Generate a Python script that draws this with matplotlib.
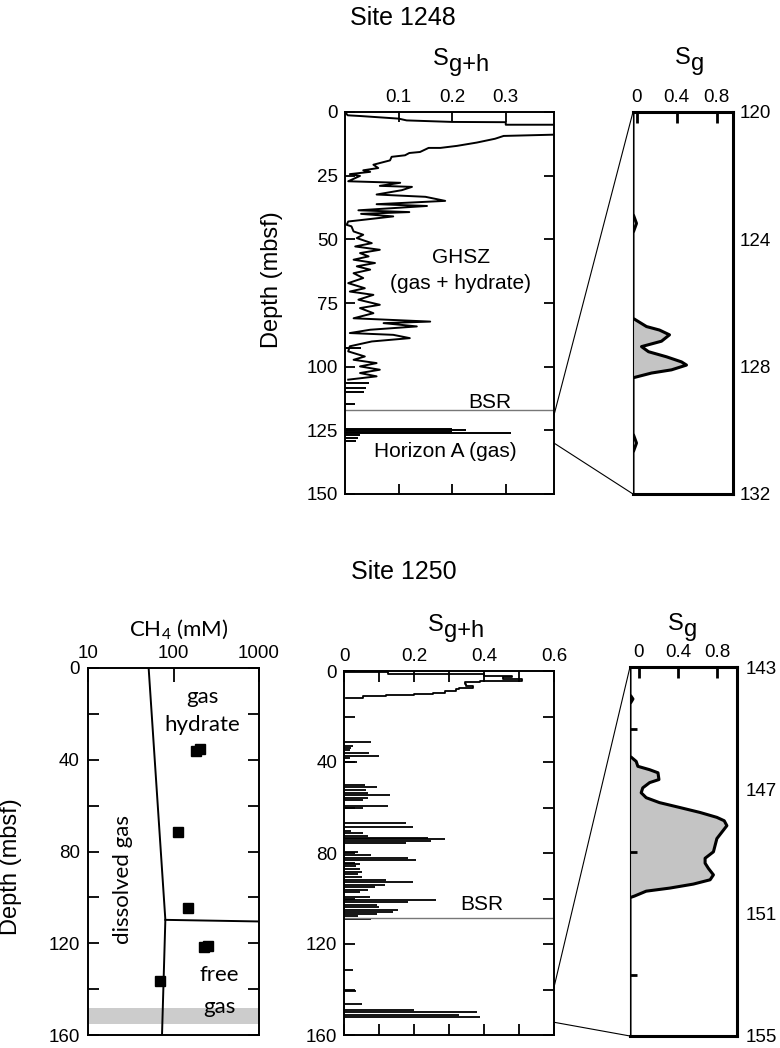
import numpy as np
import matplotlib
matplotlib.use("Agg")
import matplotlib.pyplot as plt
from matplotlib.patches import ConnectionPatch
from matplotlib.ticker import FixedLocator, FixedFormatter

plt.rcParams['font.family'] = ['Liberation Sans', 'DejaVu Sans']
plt.rcParams['mathtext.default'] = 'regular'

# ---- Site 1248, Sg+h log (depth in mbsf, saturation) ----
sgh1248_depth = [0.0, 1.3, 1.6, 2.6, 3.3, 3.9, 4.0, 5.0, 5.0, 8.8,
                 8.9, 9.4, 10.5, 12.0, 13.3, 14.1, 14.1, 15.7, 16.1, 17.0,
                 17.6, 19.0, 20.7, 22.0, 22.9, 23.5, 24.4, 25.1, 27.2, 27.8,
                 29.0, 29.4, 30.7, 32.4, 33.3, 34.9, 36.2, 36.9, 38.6, 39.3,
                 40.0, 41.0, 43.0, 44.3, 44.9, 46.9, 48.2, 49.5, 51.5, 52.8,
                 54.1, 55.4, 56.7, 58.0, 59.3, 60.6, 61.9, 63.3, 65.2, 67.2,
                 69.2, 70.5, 71.8, 73.7, 75.7, 77.0, 79.0, 81.0, 82.3, 82.9,
                 84.2, 85.5, 86.8, 87.5, 88.8, 90.1, 92.0, 94.0, 96.0, 97.3,
                 98.6, 99.9, 101.2, 102.5, 103.8, 105.1]
sgh1248_value = [0.0, 0.005, 0.03, 0.10, 0.115, 0.20, 0.30, 0.30, 0.42, 0.42,
                 0.39, 0.296, 0.28, 0.246, 0.209, 0.178, 0.156, 0.14, 0.12, 0.112,
                 0.087, 0.084, 0.053, 0.062, 0.034, 0.047, 0.009, 0.028, 0.006, 0.103,
                 0.065, 0.125, 0.106, 0.059, 0.15, 0.187, 0.059, 0.153, 0.025, 0.12,
                 0.03, 0.09, 0.006, 0.003, 0.012, 0.016, 0.034, 0.022, 0.05, 0.019,
                 0.065, 0.028, 0.044, 0.016, 0.056, 0.022, 0.047, 0.016, 0.034, 0.006,
                 0.037, 0.009, 0.053, 0.025, 0.065, 0.028, 0.053, 0.016, 0.159, 0.072,
                 0.134, 0.047, 0.009, 0.09, 0.121, 0.05, 0.009, 0.006, 0.037, 0.016,
                 0.059, 0.028, 0.065, 0.028, 0.059, 0.006]
# isolated short readings below the continuous log
dash1248_depth = [92.6, 106.4, 108.4, 110.0, 114.5]
dash1248_value = [0.03, 0.045, 0.04, 0.035, 0.018]
# Horizon A readings
horA_depth = [124.3, 125.0, 125.7, 126.1, 127.0, 128.0, 129.0]
horA_value = [0.20, 0.226, 0.20, 0.31, 0.028, 0.025, 0.02]
bsr1248 = 117.0

# ---- Site 1248, Sg zoom 120-132 ----
sg1248_depth = [120.0, 123.2, 123.5, 123.8, 126.48, 126.74, 126.85, 127.0, 127.2, 127.37,
                127.53, 127.69, 127.85, 127.95, 128.1, 128.2, 128.35, 130.1, 130.4, 130.7, 132.0]
sg1248_value = [-0.035, -0.035, 0.0, -0.035, -0.035, 0.10, 0.23, 0.33, 0.25, 0.05,
                0.12, 0.30, 0.45, 0.50, 0.35, 0.15, -0.035, -0.035, 0.0, -0.035, -0.035]

# ---- Site 1250, CH4 ----
ch4_conc = [185, 202, 113, 148, 225, 253, 69]
ch4_depth = [36.0, 35.4, 71.5, 104.8, 121.7, 121.3, 136.6]
solub_conc = [51.2, 80.3, 73.4]
solub_depth = [0.0, 109.8, 160.0]
free_conc = [80.3, 1000]
free_depth = [109.8, 110.5]
band_depth = [148.4, 155.4]

# ---- Site 1250, Sg+h ----
sgh1250_top_depth = [0.6, 1.5, 2.2, 2.8, 3.5, 4.2, 5.0, 5.8, 6.6, 7.3,
                     8.0, 8.8, 9.5, 10.1, 10.7, 11.2, 11.7]
sgh1250_top_value = [0.126, 0.40, 0.48, 0.455, 0.51, 0.39, 0.345, 0.35, 0.37, 0.33,
                     0.32, 0.29, 0.255, 0.20, 0.12, 0.054, 0.007]
sgh1250_depth = [31.4, 32.8, 33.8, 34.9, 36.0, 37.2, 38.2, 40.0, 49.9, 50.9,
                 52.4, 53.5, 54.6, 55.7, 56.8, 59.4, 60.4, 67.0, 68.4, 70.3,
                 71.3, 72.5, 73.2, 74.0, 74.7, 75.4, 79.5, 81.0, 82.0, 83.0,
                 84.2, 84.9, 85.9, 87.1, 88.3, 89.3, 90.7, 91.8, 92.9, 94.1,
                 95.1, 96.1, 97.3, 99.5, 100.5, 101.7, 102.7, 103.9, 104.9, 105.8,
                 106.8, 107.8, 109.0, 131.6, 140.6, 146.2, 149.1, 150.1, 151.0, 152.0]
sgh1250_value = [0.078, 0.026, 0.02, 0.016, 0.072, 0.10, 0.016, 0.037, 0.059, 0.094,
                 0.064, 0.069, 0.13, 0.069, 0.054, 0.126, 0.054, 0.176, 0.197, 0.021,
                 0.054, 0.069, 0.24, 0.288, 0.25, 0.178, 0.04, 0.078, 0.183, 0.207,
                 0.03, 0.045, 0.035, 0.045, 0.05, 0.04, 0.05, 0.12, 0.197, 0.116,
                 0.088, 0.069, 0.045, 0.073, 0.264, 0.183, 0.093, 0.10, 0.155, 0.14,
                 0.093, 0.04, 0.078, 0.026, 0.035, 0.05, 0.20, 0.38, 0.33, 0.39]
bsr1250 = 108.5

# ---- Site 1250, Sg zoom 143-155 ----
sg1250_depth = [143.0, 143.9, 144.04, 144.2, 145.9, 146.07, 146.23, 146.34, 146.44, 146.66,
                146.76, 146.93, 147.09, 147.25, 147.41, 147.57, 147.73, 147.89, 148.0, 148.16,
                148.37, 148.58, 148.8, 149.01, 149.22, 149.38, 149.55, 149.76, 149.92, 150.06,
                150.19, 150.29, 150.45, 150.5, 155.0]
sg1250_value = [-0.09, -0.09, -0.06, -0.09, -0.09, -0.027, -0.01, 0.11, 0.195, 0.205,
                0.11, 0.04, 0.024, 0.075, 0.21, 0.418, 0.623, 0.795, 0.87, 0.897,
                0.846, 0.795, 0.777, 0.76, 0.675, 0.675, 0.709, 0.76, 0.726, 0.555,
                0.315, 0.075, -0.045, -0.09, -0.09]

W, H = 780, 1048
fig = plt.figure(figsize=(W / 100, H / 100), dpi=100)


def box(x0, y0, x1, y1):
    # pixel box (top-left origin) -> figure axes
    return fig.add_axes([x0 / W, 1 - y1 / H, (x1 - x0) / W, (y1 - y0) / H])


def ftext(x, y, s, **kw):
    fig.text(x / W, 1 - y / H, s, **kw)


def sub_label(x, y, main, sub, dx, dy, size=17):
    # "S" followed by a lowered subscript of the same size, as in the reference
    ftext(x, y, main, ha='left', va='baseline', fontsize=size)
    ftext(x + dx, y + dy, sub, ha='left', va='baseline', fontsize=size)


TICK = 13.5
gray_fill = '#c4c4c4'

# ================= Site 1248 =================
ax1 = box(345, 112, 554, 494)
ax1.plot(sgh1248_value, sgh1248_depth, color='k', lw=1.4)
ax1.hlines(dash1248_depth, 0, dash1248_value, color='k', lw=1.4)
ax1.hlines(horA_depth, 0, horA_value, color='k', lw=1.4)
ax1.axhline(bsr1248, color='#777777', lw=1.0)
ax1.set_xlim(0, 0.39)
ax1.set_ylim(150, 0)
ax1.xaxis.tick_top()
ax1.set_xticks([0.1, 0.2, 0.3])
ax1.set_xticklabels(['0.1', '0.2', '0.3'])
ax1.set_yticks([0, 25, 50, 75, 100, 125, 150])
ax1.tick_params(axis='x', direction='in', top=True, bottom=True, length=7, width=1.3,
                labelsize=TICK, pad=4)
ax1.tick_params(axis='y', direction='in', left=True, right=True, length=7, width=1.3,
                labelsize=TICK, pad=5)
for s in ax1.spines.values():
    s.set_linewidth(1.4)
ax1.text(0.217, 57, 'GHSZ', ha='center', va='center', fontsize=15)
ax1.text(0.215, 67.5, '(gas + hydrate)', ha='center', va='center', fontsize=15)
ax1.text(0.27, 114, 'BSR', ha='center', va='center', fontsize=15)
ax1.text(0.187, 133.5, 'Horizon A (gas)', ha='center', va='center', fontsize=15)
ax1.set_ylabel('Depth (mbsf)', fontsize=17, labelpad=8)
ax1.yaxis.set_label_coords(-0.297, 0.56)

ax2 = box(633, 112, 733, 494)
ax2.fill_betweenx(sg1248_depth, -0.035, sg1248_value, color=gray_fill, lw=0)
ax2.plot(sg1248_value, sg1248_depth, color='k', lw=2.2)
ax2.set_xlim(-0.035, 0.965)
ax2.set_ylim(132, 120)
ax2.xaxis.tick_top()
ax2.set_xticks([0, 0.4, 0.8])
ax2.set_xticklabels(['0', '0.4', '0.8'])
ax2.tick_params(axis='x', direction='in', top=True, bottom=False, length=8, width=2,
                labelsize=TICK, pad=4)
ax2.yaxis.tick_right()
ax2.set_yticks([120, 124, 128, 132])
ax2.tick_params(axis='y', length=0, labelsize=TICK, pad=5)
ax2.spines['left'].set_linewidth(0.8)
for k in ['top', 'right', 'bottom']:
    ax2.spines[k].set_linewidth(2.2)

for d_mid, d_zoom in [(119.0, 120.0), (130.0, 132.0)]:
    con = ConnectionPatch(xyA=(0.39, d_mid), coordsA=ax1.transData,
                          xyB=(-0.035, d_zoom), coordsB=ax2.transData,
                          color='k', lw=0.8)
    fig.add_artist(con)

ftext(403, 18, 'Site 1248', ha='center', va='center', fontsize=18)
sub_label(433, 65, 'S', 'g+h', 16, 6)
sub_label(675, 64, 'S', 'g', 16, 6)

# ================= Site 1250 =================
ax3 = box(88, 668, 259, 1035)
ax3.set_xscale('log')
ax3.axhspan(band_depth[0], band_depth[1], color='#cccccc', lw=0)
ax3.plot(solub_conc, solub_depth, color='k', lw=1.4)
ax3.plot(free_conc, free_depth, color='k', lw=1.4)
ax3.plot(ch4_conc, ch4_depth, 's', color='k', ms=7.5)
ax3.set_xlim(10, 1000)
ax3.set_ylim(160, 0)
ax3.xaxis.tick_top()
ax3.xaxis.set_major_locator(FixedLocator([10, 100, 1000]))
ax3.xaxis.set_major_formatter(FixedFormatter(['10', '100', '1000']))
ax3.xaxis.set_minor_locator(FixedLocator([]))
ax3.tick_params(axis='x', direction='in', top=True, bottom=False, length=10, width=1.3,
                labelsize=TICK, pad=4)
ax3.set_yticks([0, 40, 80, 120, 160])
ax3.yaxis.set_minor_locator(FixedLocator([20, 60, 100, 140]))
ax3.tick_params(axis='y', which='both', direction='in', left=True, right=True,
                length=8, width=1.3, labelsize=TICK, pad=6)
for s in ax3.spines.values():
    s.set_linewidth(1.4)
ann = dict(ha='center', va='center', fontsize=16, family=['Lato', 'DejaVu Sans'])
ax3.text(217, 12.6, 'gas', **ann)
ax3.text(217, 24.9, 'hydrate', **ann)
ax3.text(25.7, 92, 'dissolved gas', rotation=90, **ann)
ax3.text(346, 134, 'free', **ann)
ax3.text(346, 147.7, 'gas', **ann)
ax3.set_ylabel('Depth (mbsf)', fontsize=17)
ax3.yaxis.set_label_coords(-0.385, 0.46)

ax4 = box(344, 671, 554, 1035)
ax4.plot(np.r_[0, sgh1250_top_value], np.r_[sgh1250_top_depth[0], sgh1250_top_depth],
         color='k', lw=1.3, drawstyle='steps-pre')
ax4.hlines(sgh1250_depth, 0, sgh1250_value, color='k', lw=1.3)
ax4.axhline(bsr1250, color='#777777', lw=1.0)
ax4.set_xlim(0, 0.6)
ax4.set_ylim(160, 0)
ax4.xaxis.tick_top()
ax4.set_xticks([0, 0.2, 0.4, 0.6])
ax4.set_xticklabels(['0', '0.2', '0.4', '0.6'])
ax4.xaxis.set_minor_locator(FixedLocator([0.1, 0.3, 0.5]))
ax4.tick_params(axis='x', which='both', direction='in', top=True, bottom=True,
                length=8, width=1.3, labelsize=TICK, pad=4)
ax4.set_yticks([0, 40, 80, 120, 160])
ax4.yaxis.set_minor_locator(FixedLocator([20, 60, 100, 140]))
ax4.tick_params(axis='y', which='both', direction='in', left=True, right=True,
                length=8, width=1.3, labelsize=TICK, pad=5)
for s in ax4.spines.values():
    s.set_linewidth(1.4)
ax4.text(0.393, 102.7, 'BSR', ha='center', va='center', fontsize=15)

ax5 = box(630, 667, 737, 1036)
ax5.fill_betweenx(sg1250_depth, -0.09, sg1250_value, color=gray_fill, lw=0)
ax5.plot(sg1250_value, sg1250_depth, color='k', lw=2.2)
ax5.set_xlim(-0.09, 1.0)
ax5.set_ylim(155, 143)
ax5.xaxis.tick_top()
ax5.set_xticks([0, 0.4, 0.8])
ax5.set_xticklabels(['0', '0.4', '0.8'])
ax5.tick_params(axis='x', direction='in', top=True, bottom=False, length=8, width=2,
                labelsize=TICK, pad=4)
ax5.set_yticks([143, 147, 151, 155])
ax5.yaxis.set_minor_locator(FixedLocator([145, 147, 149, 151, 153]))
ax5.tick_params(axis='y', which='major', left=False, right=True, labelleft=False,
                labelright=True, length=0, labelsize=TICK, pad=6)
ax5.tick_params(axis='y', which='minor', left=True, right=False, direction='in',
                length=5, width=2)
ax5.spines['left'].set_linewidth(0.8)
for k in ['top', 'right', 'bottom']:
    ax5.spines[k].set_linewidth(2.2)

for d_mid, d_zoom in [(139.0, 143.0), (154.4, 155.0)]:
    con = ConnectionPatch(xyA=(0.6, d_mid), coordsA=ax4.transData,
                          xyB=(-0.09, d_zoom), coordsB=ax5.transData,
                          color='k', lw=0.8)
    fig.add_artist(con)

ftext(404, 572, 'Site 1250', ha='center', va='center', fontsize=18)
ftext(179, 636, r'CH$_4$ (mM)', ha='center', va='baseline', fontsize=16,
      family=['Lato', 'DejaVu Sans'])
sub_label(428, 631, 'S', 'g+h', 16, 6)
sub_label(668, 630, 'S', 'g', 16, 6)

fig.savefig('out.png', dpi=100)
